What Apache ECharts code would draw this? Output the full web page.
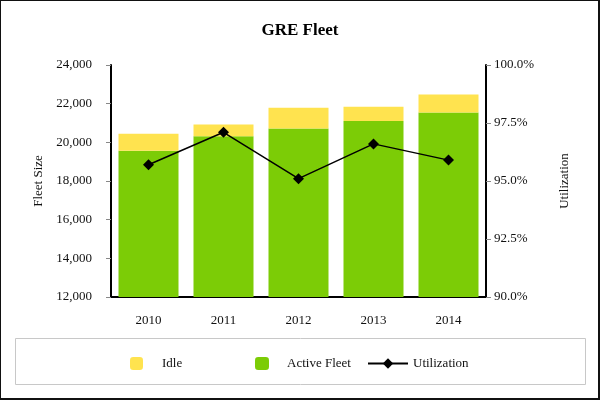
<!DOCTYPE html>
<html>
<head>
<meta charset="utf-8">
<script src="https://cdn.jsdelivr.net/npm/echarts@6/dist/echarts.min.js"></script>
<style>
  html, body { margin: 0; padding: 0; background: #fff; }
  #wrap { position: relative; width: 600px; height: 400px; }
  #chart { position: absolute; left: 0; top: 0; width: 600px; height: 400px; }
  #frame { position: absolute; left: 0; top: 0; width: 600px; height: 400px; box-sizing: border-box;
           border-left: 1px solid #111; border-top: 1px solid #111; border-right: 2px solid #111; border-bottom: 2px solid #111;
           pointer-events: none; }
</style>
</head>
<body>
<div id="wrap"><div id="chart"></div><div id="frame"></div></div>
<script>
const years = ['2010', '2011', '2012', '2013', '2014'];
const activeFleet = [19560, 20320, 20710, 21100, 21540];
const idle = [880, 600, 1080, 740, 940];
const utilization = [95.7, 97.1, 95.1, 96.6, 95.9];

const serif = 'Liberation Serif, Times New Roman, serif';
const txt = { fontFamily: serif, fontSize: 13, color: '#111' };

const chart = echarts.init(document.getElementById('chart'), null, { renderer: 'canvas' });
chart.setOption({
  animation: false,
  backgroundColor: '#fff',
  title: {
    text: 'GRE Fleet', left: 'center', top: 17,
    textStyle: { fontFamily: serif, fontSize: 17, fontWeight: 'bold', color: '#000' }
  },
  grid: { left: 111, right: 114, top: 65, bottom: 103 },
  legend: [
    { data: ['Idle'], left: 125, top: 352, itemWidth: 13, itemHeight: 13, itemGap: 0,
      textStyle: Object.assign({}, txt, { padding: [0, 0, 0, 14] }) },
    { data: ['Active Fleet'], left: 250, top: 352, itemWidth: 14, itemHeight: 13, itemGap: 0,
      textStyle: Object.assign({}, txt, { padding: [0, 0, 0, 13] }) },
    { data: ['Utilization'], left: 362, top: 352, itemWidth: 40, itemHeight: 13, itemGap: 0,
      textStyle: Object.assign({}, txt, { padding: [0, 0, 0, 0] }) }
  ],
  graphic: [
    { type: 'rect', shape: { x: 15.5, y: 338.5, width: 570, height: 46 },
      style: { fill: 'none', stroke: '#c8c8c8', lineWidth: 1 }, silent: true, z: -1 }
  ],
  xAxis: {
    type: 'category', data: years,
    axisLine: { lineStyle: { color: '#000', width: 2 } },
    axisTick: { alignWithLabel: true, length: 5, lineStyle: { color: '#888' } },
    axisLabel: Object.assign({}, txt, { margin: 17 }),
    splitLine: { show: false }
  },
  yAxis: [
    {
      type: 'value', min: 12000, max: 24000, interval: 2000,
      name: 'Fleet Size', nameLocation: 'middle', nameRotate: 90, nameGap: 66,
      nameTextStyle: txt,
      axisLine: { show: true, lineStyle: { color: '#000', width: 2 } },
      axisTick: { show: true, length: 5, lineStyle: { color: '#888' } },
      axisLabel: Object.assign({}, txt, {
        margin: 19,
        formatter: v => v.toLocaleString('en-US')
      }),
      splitLine: { show: false }
    },
    {
      type: 'value', min: 90, max: 100, interval: 2.5, position: 'right',
      name: 'Utilization', nameLocation: 'middle', nameRotate: 90, nameGap: 72,
      nameTextStyle: txt,
      axisLine: { show: true, lineStyle: { color: '#000', width: 2 } },
      axisTick: { show: true, length: 5, lineStyle: { color: '#888' } },
      axisLabel: Object.assign({}, txt, {
        margin: 8,
        formatter: v => v.toFixed(1) + '%'
      }),
      splitLine: { show: false }
    }
  ],
  series: [
    { name: 'Active Fleet', type: 'bar', stack: 'fleet', data: activeFleet, barWidth: '80%',
      itemStyle: { color: '#7ccc06' }, z: 2 },
    { name: 'Idle', type: 'bar', stack: 'fleet', data: idle, barWidth: '80%',
      itemStyle: { color: '#ffe34f' }, z: 2 },
    { name: 'Utilization', type: 'line', yAxisIndex: 1, data: utilization,
      symbol: 'diamond', symbolSize: 11, showSymbol: true,
      lineStyle: { color: '#000', width: 1.5 }, itemStyle: { color: '#000' }, z: 5 }
  ]
});
</script>
</body>
</html>
